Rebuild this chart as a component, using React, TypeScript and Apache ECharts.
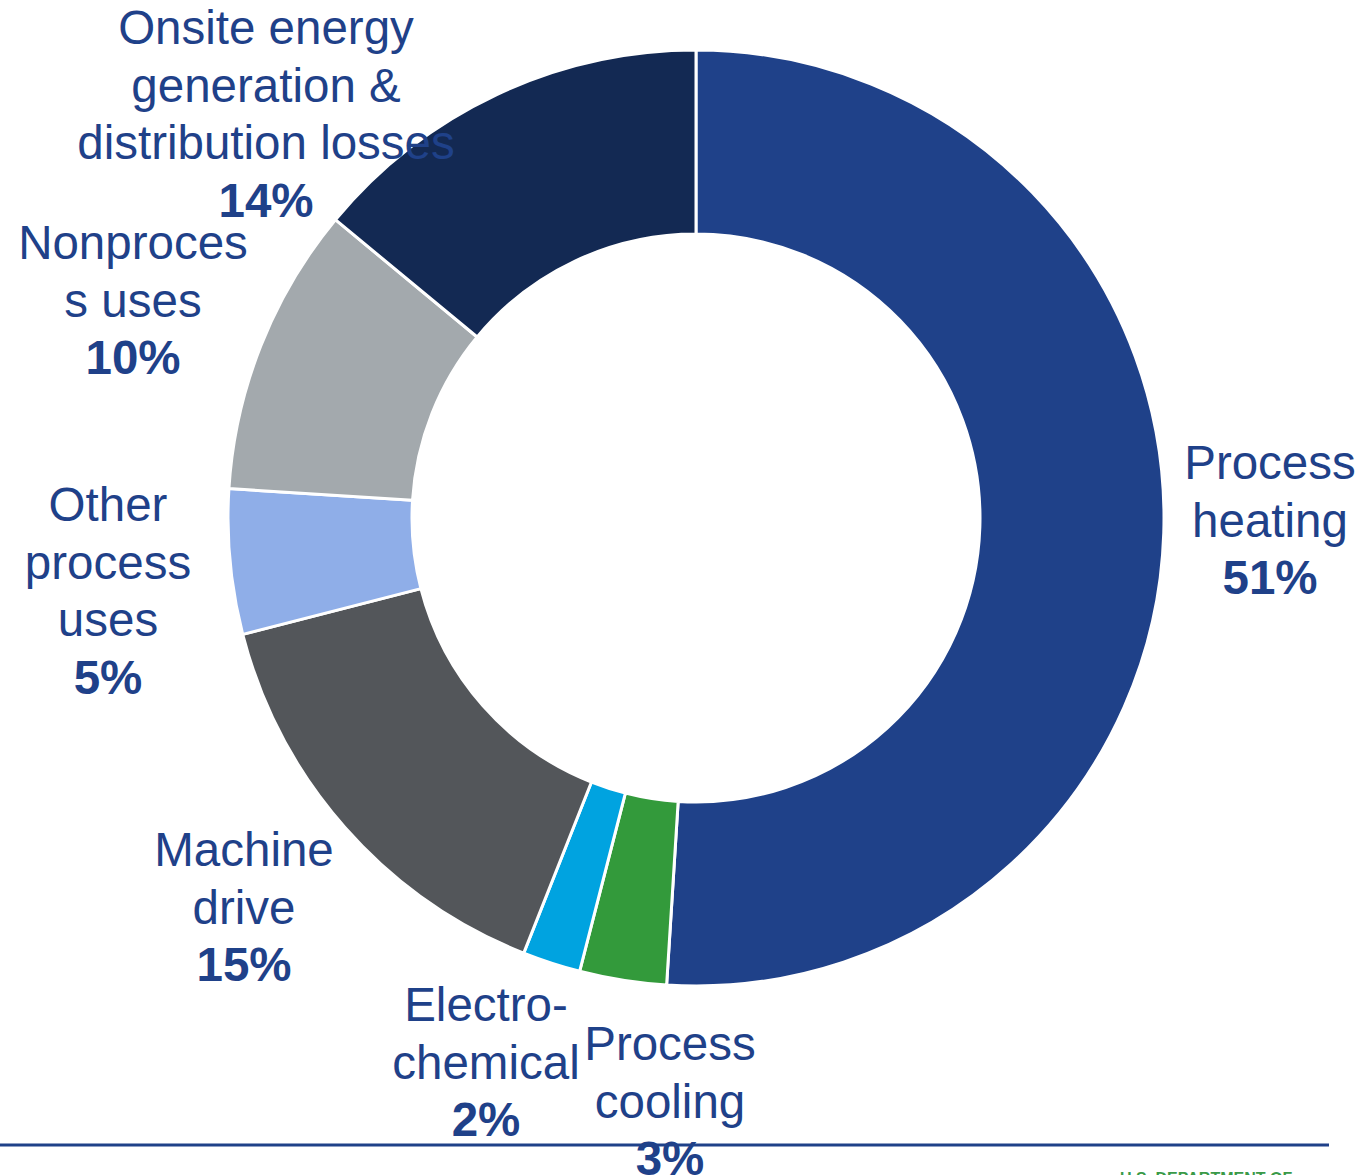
import React, { useEffect, useRef } from "react";
import * as echarts from "echarts";

const categories = [
  "Process\nheating",
  "Process\ncooling",
  "Electro-\nchemical",
  "Machine\ndrive",
  "Other\nprocess\nuses",
  "Nonproces\ns uses",
  "Onsite energy\ngeneration &\ndistribution losses",
];
const shares = [51, 3, 2, 15, 5, 10, 14];
const sliceColors = ["#1F4189", "#339A3B", "#00A3E0", "#53565A", "#8FAEE8", "#A3A9AD", "#132953"];
const labelCenters: [number, number][] = [
  [1270, 520],
  [670, 1101],
  [486, 1062],
  [244, 907],
  [108, 591],
  [133, 300],
  [266, 114],
];

const FONT = "'Liberation Sans', Arial, Helvetica, sans-serif";
const TEXT_COLOR = "#1F4189";

export default function App() {
  const ref = useRef<HTMLDivElement>(null);
  useEffect(() => {
    document.body.style.margin = "0";
    const chart = echarts.init(ref.current!, null, { renderer: "svg" });
    chart.setOption({
      animation: false,
      backgroundColor: "#FFFFFF",
      series: [
        {
          type: "pie",
          center: [696, 518],
          radius: [284, 468],
          startAngle: 90,
          clockwise: true,
          avoidLabelOverlap: false,
          itemStyle: { borderColor: "#FFFFFF", borderWidth: 3 },
          labelLine: { show: false },
          label: {
            show: true,
            position: "outside",
            fontFamily: FONT,
            color: TEXT_COLOR,
            align: "center",
            lineHeight: 57.5,
            formatter: (p: any) =>
              p.name
                .split("\n")
                .map((l: string) => `{n|${l}}`)
                .join("\n") + `\n{v|${p.value}%}`,
            rich: {
              n: { fontSize: 47.5, fontFamily: FONT, color: TEXT_COLOR, lineHeight: 57.5, align: "center" },
              v: { fontSize: 47.5, fontWeight: "bold", fontFamily: FONT, color: TEXT_COLOR, lineHeight: 57.5, align: "center" },
            },
          },
          labelLayout: (params: any) => {
            const c = labelCenters[params.dataIndex];
            return { x: c[0], y: c[1], align: "center", verticalAlign: "middle" };
          },
          emphasis: { disabled: true },
          data: categories.map((name, i) => ({
            name,
            value: shares[i],
            itemStyle: { color: sliceColors[i] },
          })),
        },
      ],
      graphic: [
        {
          type: "line",
          shape: { x1: 0, y1: 1145, x2: 1329, y2: 1145 },
          style: { stroke: "#1F4189", lineWidth: 3 },
          z: 0,
        },
        {
          type: "text",
          x: 1120,
          y: 1170,
          style: {
            text: "U.S. DEPARTMENT OF",
            fontFamily: FONT,
            fontWeight: "bold",
            fontSize: 16,
            fill: "#3A9A48",
            textVerticalAlign: "top",
          },
        },
      ],
    });
    return () => chart.dispose();
  }, []);
  return <div ref={ref} style={{ width: 1365, height: 1175 }} />;
}
